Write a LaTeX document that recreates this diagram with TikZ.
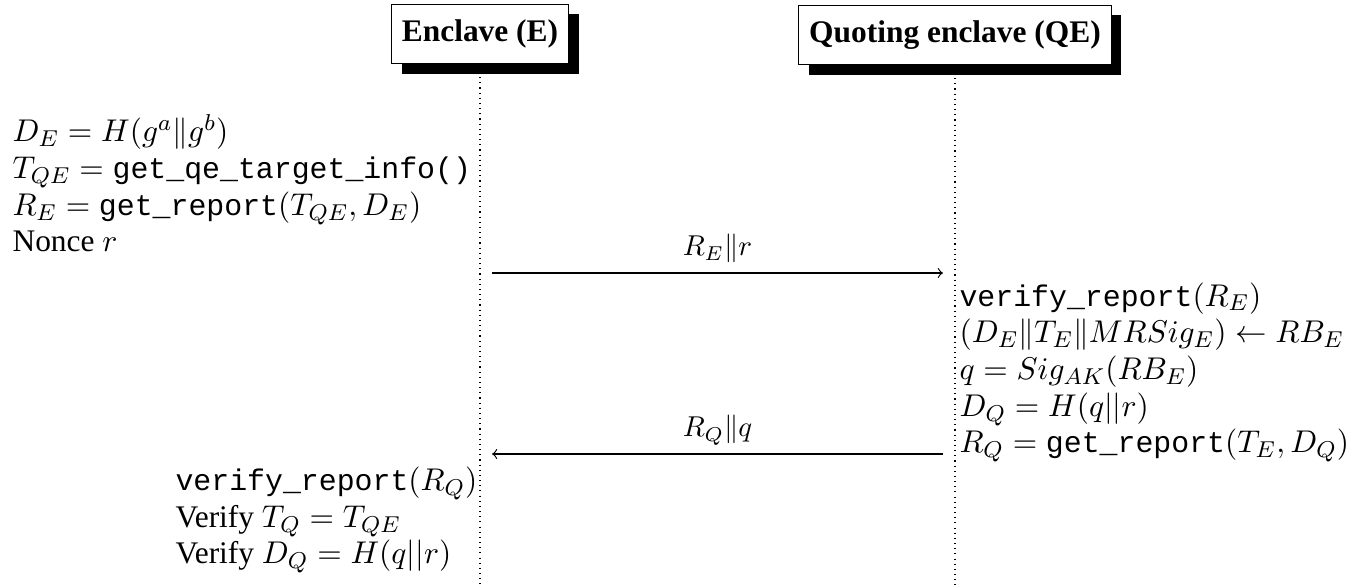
\documentclass[tikz,border=0pt]{standalone}
\usepackage[no-math]{fontspec}
\setmainfont{Liberation Serif}
\setmonofont[Scale=0.95]{Liberation Mono}
\usetikzlibrary{shadows}
\begin{document}
\begin{tikzpicture}[x=0.3484pt,y=-0.3484pt,
  actor/.style={draw, thin, fill=white, font=\fontsize{10.95}{13}\selectfont\bfseries,
    minimum height=20.6pt, inner sep=3.6pt,
    drop shadow={shadow xshift=3.5pt, shadow yshift=-3.5pt, fill=black, opacity=1}},
  lifeline/.style={thin, dash pattern=on 0.4pt off 1.4pt},
  msg/.style={->, thin, shorten <=4.2pt, shorten >=4.2pt},
  lbl/.style={anchor=base, yshift=6pt, inner sep=0pt, font=\fontsize{10}{12}\selectfont},
  block/.style={align=left, anchor=base west, inner sep=0pt, font=\fontsize{10.95}{12.8}\selectfont}]
\useasboundingbox (0,0) rectangle (1354,585);

\node[actor] (E) at (480,34) {Enclave (E)};
\node[actor] (QE) at (955,35) {Quoting enclave (QE)};

\coordinate (Eend) at (480,585);
\coordinate (Qend) at (955,585);
\draw[lifeline] ([yshift=-4.5pt]E.south) -- (Eend);
\draw[lifeline] ([yshift=-4.5pt]QE.south) -- (Qend);

\node[block] (left) at (12,252) {$D_E = H(g^a \| g^b)$\\
$T_{QE} = \texttt{get\_qe\_target\_info()}$\\
$R_E = \texttt{get\_report}(T_{QE}, D_E)$\\
Nonce $r$};

\coordinate (m1a) at (480,273);
\coordinate (m1b) at (955,273);
\draw[msg] (m1a) -- node[lbl] (l1) {$R_E \| r$} (m1b);

\node[block] (right) at (959,453) {\texttt{verify\_report}$(R_E)$\\
$(D_E \| T_E \| MRSig_E) \leftarrow RB_E$\\
$q = Sig_{AK}(RB_E)$\\
$D_Q = H(q||r)$\\
$R_Q = \texttt{get\_report}(T_E, D_Q)$};

\coordinate (m2a) at (955,454);
\coordinate (m2b) at (480,454);
\draw[msg] (m2a) -- node[lbl] (l2) {$R_Q \| q$} (m2b);

\node[block] (bottom) at (175,564) {\texttt{verify\_report}$(R_Q)$\\
Verify $T_Q = T_{QE}$\\
Verify $D_Q = H(q||r)$};
\end{tikzpicture}
\end{document}
